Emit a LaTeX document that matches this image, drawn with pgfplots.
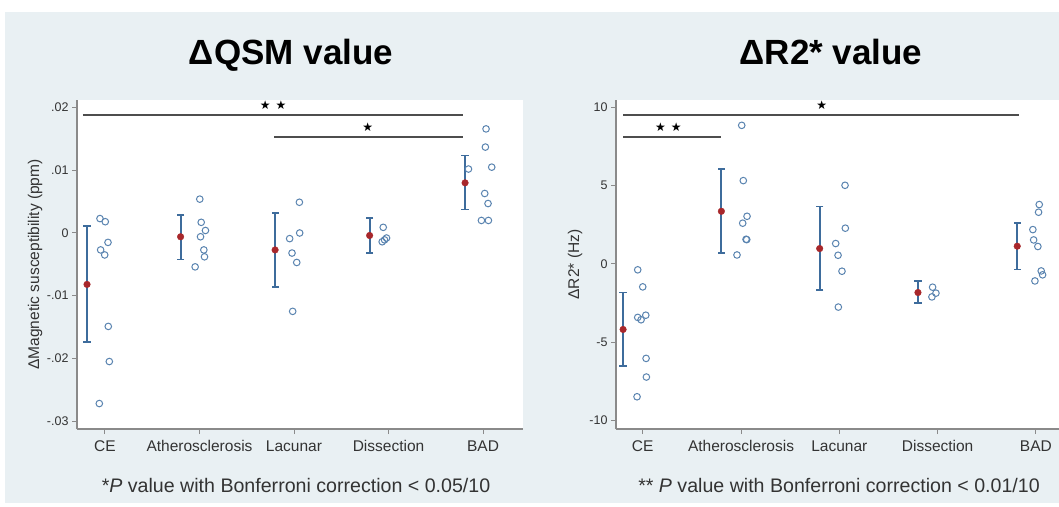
\documentclass[border=0pt]{standalone}
\usepackage{pgfplots}
\pgfplotsset{compat=1.18}
\usepackage{fontspec}
\setmainfont{Liberation Sans}
\newfontfamily\symfont{DejaVu Sans}

\definecolor{panel}{HTML}{E9F0F3}
\definecolor{ptblue}{HTML}{5A84B0}
\definecolor{errblue}{HTML}{3E6C9C}
\definecolor{meanred}{HTML}{A8272B}
\definecolor{siggray}{HTML}{4D4D4D}
\definecolor{axgray}{HTML}{8A8A8A}
\definecolor{labgray}{HTML}{333333}

\tikzset{stars/.style={font=\symfont\fontsize{12}{13}\selectfont, text=black}}

\pgfplotsset{
  panelax/.style={
    scale only axis,
    anchor=south west,
    axis lines*=left,
    axis line style={axgray, line width=1.2pt, -},
    axis background/.style={fill=white},
    tick align=outside,
    major tick length=5pt,
    tick style={axgray, line width=1pt},
    scaled y ticks=false,
    xtick={1,2,3,4,5},
    xticklabels={CE,Atherosclerosis,Lacunar,Dissection,BAD},
    x tick label style={font=\fontsize{15.5}{18}\selectfont, text=labgray, yshift=-3pt},
    y tick label style={font=\fontsize{12.5}{15}\selectfont, text=labgray},
    ylabel style={font=\fontsize{15.5}{18}\selectfont, text=labgray},
    clip=false,
  },
  pts/.style={only marks, mark=o, mark size=3.3pt, ptblue, line width=1pt},
  ci/.style={errblue, line width=2.1pt, mark=-, mark size=3.6pt,
    mark options={line width=1.4pt}},
  means/.style={only marks, mark=*, mark size=3.3pt, meanred},
  sig/.style={siggray, line width=1.8pt},
}

\begin{document}
\begin{tikzpicture}[x=1pt,y=1pt]
\useasboundingbox (0,0) rectangle (1059,506);
\fill[white] (0,0) rectangle (1059,506);
\fill[panel] (5,3) rectangle (1059,494);

\node[anchor=base, font=\bfseries\fontsize{35}{40}\selectfont] at (291,441) {ΔQSM value};
\node[anchor=base, font=\bfseries\fontsize{35}{40}\selectfont] at (831,441) {ΔR2* value};

\node[anchor=base, text=labgray, font=\fontsize{19.6}{22}\selectfont] at (296,14) {*\textit{P} value with Bonferroni correction < 0.05/10};
\node[anchor=base, text=labgray, font=\fontsize{19.6}{22}\selectfont] at (839,14) {** \textit{P} value with Bonferroni correction < 0.01/10};

% left: delta QSM
\begin{axis}[panelax, at={(77pt,77pt)}, width=446pt, height=329pt,
  xmin=0.704, xmax=5.423, ymin=-0.03126, ymax=0.02121,
  ytick={-0.03,-0.02,-0.01,0,0.01,0.02},
  yticklabels={-.03,-.02,-.01,0,.01,.02},
  ylabel={ΔMagnetic susceptibility (ppm)},
  ylabel style={at={([xshift=-42pt]axis description cs:0,0.5)}, anchor=center}]
\addplot[sig] coordinates {(0.767,0.01882) (4.79,0.01882)};
\addplot[sig] coordinates {(2.79,0.01536) (4.79,0.01536)};
\node[stars] at (axis cs:2.78,0.02041) {★\hspace{5pt}★};
\node[stars] at (axis cs:3.78,0.01695) {★};
% individual patients
\addplot[pts] coordinates {
  (0.947,0.0023) (1.003,0.0018) (0.954,-0.0027) (0.997,-0.0035)
  (1.032,-0.0015) (1.035,-0.0149) (1.046,-0.0205) (0.940,-0.0272)};
\addplot[pts] coordinates {
  (2.003,0.0054) (2.018,0.0017) (2.063,0.0004) (2.011,-0.0006)
  (2.046,-0.0027) (2.053,-0.0038) (1.954,-0.0054)};
\addplot[pts] coordinates {
  (3.057,0.0049) (3.060,0.0000) (2.954,-0.0009) (2.979,-0.0032)
  (3.029,-0.0047) (2.986,-0.0125)};
\addplot[pts] coordinates {
  (3.944,0.0009) (3.979,-0.0008) (3.933,-0.0014) (3.958,-0.0011)};
\addplot[pts] coordinates {
  (5.032,0.0166) (5.025,0.0137) (5.092,0.0105) (4.846,0.0102)
  (5.018,0.0063) (5.053,0.0047) (4.983,0.0020) (5.057,0.0020)};
% interval (lower, upper) and mean
\addplot[ci] coordinates {(0.81,-0.0174) (0.81,0.0011)};
\addplot[ci] coordinates {(1.80,-0.0042) (1.80,0.0029)};
\addplot[ci] coordinates {(2.80,-0.0086) (2.80,0.0032)};
\addplot[ci] coordinates {(3.80,-0.0032) (3.80,0.0024)};
\addplot[ci] coordinates {(4.81,0.0037) (4.81,0.0124)};
\addplot[means] coordinates {
  (0.81,-0.0082) (1.80,-0.0006) (2.80,-0.0027) (3.80,-0.0004) (4.81,0.0080)};
\end{axis}

% right: delta R2*
\begin{axis}[panelax, at={(616pt,77pt)}, width=443pt, height=329pt,
  xmin=0.728, xmax=5.235, ymin=-10.55, ymax=10.47,
  ytick={-10,-5,0,5,10},
  yticklabels={-10,-5,0,5,10},
  ylabel={ΔR2* (Hz)},
  ylabel style={at={([xshift=-41pt]axis description cs:0,0.5)}, anchor=center}]
\addplot[sig] coordinates {(0.80,9.51) (4.83,9.51)};
\addplot[sig] coordinates {(0.80,8.12) (1.80,8.12)};
\node[stars] at (axis cs:1.26,8.76) {★\hspace{5pt}★};
\node[stars] at (axis cs:2.82,10.15) {★};
\addplot[pts] coordinates {
  (0.949,-0.38) (1.000,-1.47) (0.949,-3.42) (0.983,-3.57)
  (1.031,-3.28) (1.034,-6.04) (1.037,-7.23) (0.942,-8.49)};
\addplot[pts] coordinates {
  (2.007,8.85) (2.023,5.32) (2.061,3.04) (2.017,2.60)
  (2.051,1.57) (2.058,1.55) (1.959,0.57)};
\addplot[pts] coordinates {
  (3.058,5.02) (3.061,2.28) (2.963,1.30) (2.987,0.55)
  (3.027,-0.47) (2.990,-2.76)};
\addplot[pts] coordinates {
  (3.949,-1.49) (3.983,-1.87) (3.942,-2.11)};
\addplot[pts] coordinates {
  (5.034,3.79) (5.027,3.30) (4.969,2.19) (4.977,1.53)
  (5.020,1.11) (5.054,-0.45) (5.068,-0.70) (4.990,-1.09)};
\addplot[ci] coordinates {(0.80,-6.53) (0.80,-1.83)};
\addplot[ci] coordinates {(1.80,0.70) (1.80,6.06)};
\addplot[ci] coordinates {(2.80,-1.68) (2.80,3.68)};
\addplot[ci] coordinates {(3.80,-2.51) (3.80,-1.10)};
\addplot[ci] coordinates {(4.81,-0.36) (4.81,2.62)};
\addplot[means] coordinates {
  (0.80,-4.19) (1.80,3.36) (2.80,0.98) (3.80,-1.83) (4.81,1.13)};
\end{axis}
\end{tikzpicture}
\end{document}
